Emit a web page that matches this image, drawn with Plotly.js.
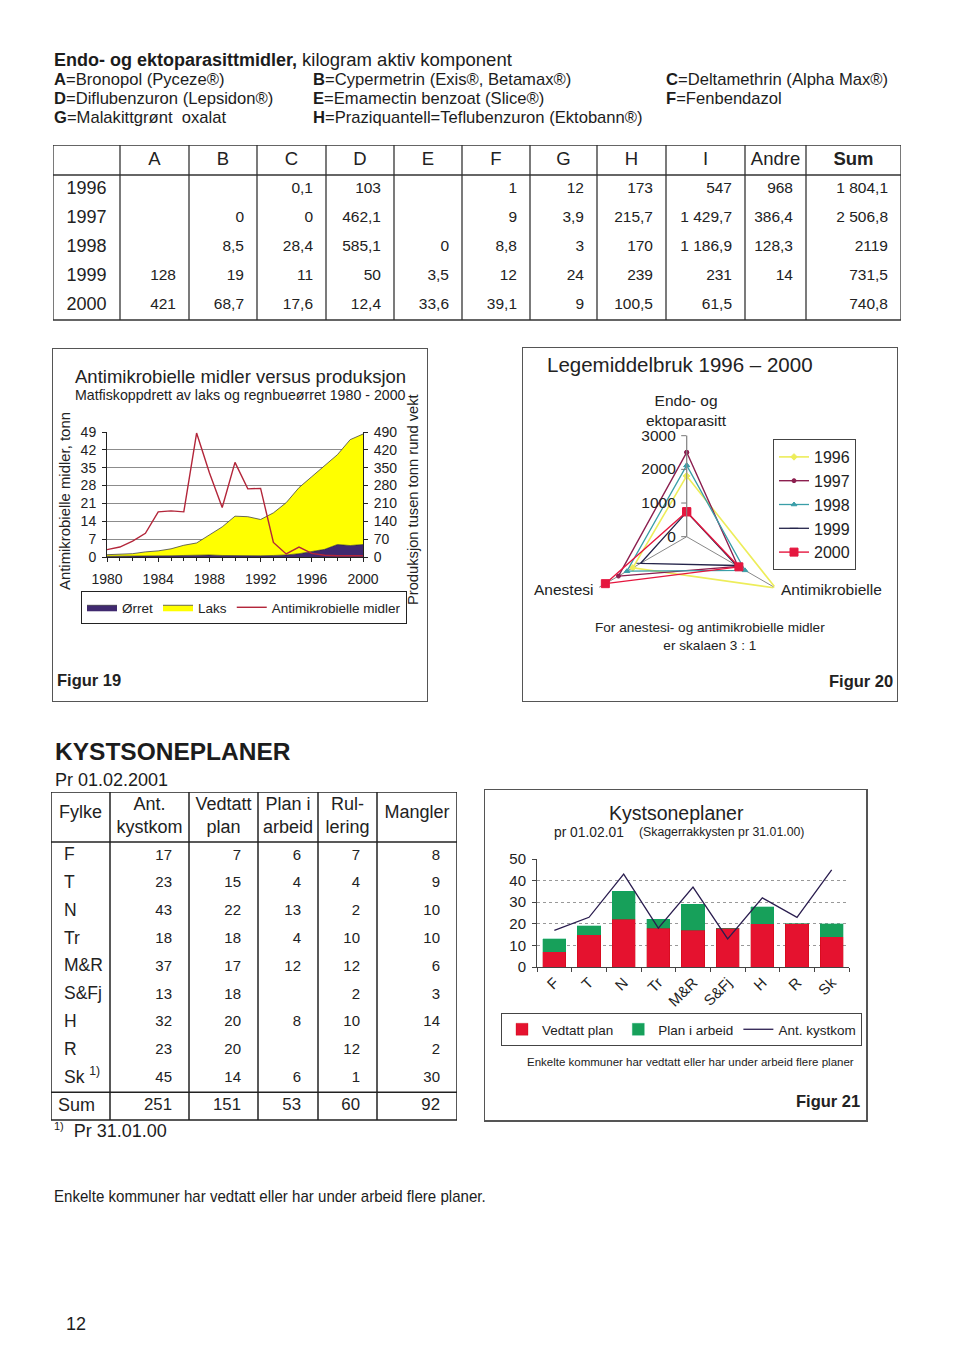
<!DOCTYPE html>
<html><head><meta charset="utf-8">
<script src="https://cdn.plot.ly/plotly-3.0.1.min.js"></script>
<style>
body{margin:0;background:#fff;}
#page{position:relative;width:960px;height:1362px;background:#fff;font-family:'Liberation Sans',Arial,sans-serif;color:#1c1c1c;overflow:hidden;}
.t{position:absolute;white-space:nowrap;line-height:1.2;}
.box{position:absolute;border:1.5px solid #555;box-sizing:border-box;}
.plot{position:absolute;}
</style></head><body><div id="page">

<div class="t" style="left:54px;top:49px;font-size:18px;"><b>Endo- og ektoparasittmidler,</b> <span style="font-size:18.5px">kilogram aktiv komponent</span></div>
<div class="t" style="left:54px;top:70px;font-size:16.6px;"><b>A</b>=Bronopol (Pyceze®)</div>
<div class="t" style="left:313px;top:70px;font-size:16.6px;"><b>B</b>=Cypermetrin (Exis®, Betamax®)</div>
<div class="t" style="left:666px;top:70px;font-size:16.6px;"><b>C</b>=Deltamethrin (Alpha Max®)</div>
<div class="t" style="left:54px;top:89px;font-size:16.6px;"><b>D</b>=Diflubenzuron (Lepsidon®)</div>
<div class="t" style="left:313px;top:89px;font-size:16.6px;"><b>E</b>=Emamectin benzoat (Slice®)</div>
<div class="t" style="left:666px;top:89px;font-size:16.6px;"><b>F</b>=Fenbendazol</div>
<div class="t" style="left:54px;top:108px;font-size:16.6px;"><b>G</b>=Malakittgrønt&nbsp; oxalat</div>
<div class="t" style="left:313px;top:108px;font-size:16.6px;"><b>H</b>=Praziquantell=Teflubenzuron (Ektobann®)</div>

<div id="tab1" class="plot" style="left:52px;top:144px;"></div>

<div class="box" style="left:52px;top:348px;width:376px;height:354px;"></div>
<div id="fig19" class="plot" style="left:52px;top:348px;"></div>
<div class="box" style="left:522px;top:347px;width:376px;height:355px;"></div>
<div id="fig20" class="plot" style="left:522px;top:348px;"></div>

<div class="t" style="left:55px;top:737px;font-size:24.5px;font-weight:bold;">KYSTSONEPLANER</div>
<div class="t" style="left:55px;top:770px;font-size:18px;">Pr 01.02.2001</div>
<div id="tab2" class="plot" style="left:50px;top:791px;"></div>
<div class="t" style="left:54px;top:1120px;font-size:18px;"><sup style="font-size:11px">1)</sup>&nbsp;&nbsp;Pr 31.01.00</div>

<div class="box" style="left:484px;top:789px;width:384px;height:333px;border-width:1.5px 2px 2px 1.5px;"></div>
<div id="fig21" class="plot" style="left:484px;top:790px;"></div>

<div class="t" style="left:54px;top:1187px;font-size:17px;transform:scaleX(0.887);transform-origin:0 50%;">Enkelte kommuner har vedtatt eller har under arbeid flere planer.</div>
<div class="t" style="left:66px;top:1314px;font-size:18px;">12</div>
</div>
<script>
const SANS = "Liberation Sans, Arial, sans-serif";
const cfg = {staticPlot:true, displayModeBar:false};

// ---------- Table: Endo- og ektoparasittmidler (kg aktiv komponent) ----------
const drugYears = ['1996','1997','1998','1999','2000'];
const drugHeaders = ['', 'A','B','C','D','E','F','G','H','I','Andre','<b>Sum</b>'];
const colA = [null, null, null, 128, 421];
const colB = [null, 0, 8.5, 19, 68.7];
const colC = [0.1, 0, 28.4, 11, 17.6];
const colD = [103, 462.1, 585.1, 50, 12.4];
const colE = [null, null, 0, 3.5, 33.6];
const colF = [1, 9, 8.8, 12, 39.1];
const colG = [12, 3.9, 3, 24, 9];
const colH = [173, 215.7, 170, 239, 100.5];
const colI = [547, 1429.7, 1186.9, 231, 61.5];
const colAndre = [968, 386.4, 128.3, 14, null];
const colSum = [1804.1, 2506.8, 2119, 731.5, 740.8];

function fmtNo(v){
  if (v === null || v === undefined) return '';
  const parts = String(v).split('.'); let i = parts[0]; const d = parts[1];
  if (d !== undefined && i.length > 3) i = i.slice(0, -3) + ' ' + i.slice(-3);
  return d !== undefined ? i + ',' + d : i;
}
function textTrace(xs, ys, texts, pos, font){
  return {type:'scatter', mode:'text', x:xs, y:ys, text:texts, textposition:pos, textfont:font,
    cliponaxis:false, hoverinfo:'skip', showlegend:false};
}
function gridLayout(W, H, shapes){
  return {width:W+2, height:H+2, margin:{l:1, r:1, t:1, b:1}, paper_bgcolor:'rgba(0,0,0,0)', plot_bgcolor:'rgba(0,0,0,0)',
    xaxis:{range:[0, W], visible:false, fixedrange:true}, yaxis:{range:[H, 0], visible:false, fixedrange:true},
    showlegend:false, hovermode:false, shapes:shapes};
}

(function(){
  const widths = [67,69,68,69,68,68,68,67,69,79,61,95];
  const W = 848, H = 176, hdrH = 30, rowH = 29, TB = 175, padR = 13;
  const b = [0]; widths.forEach(w => b.push(b[b.length-1] + w));
  const numCols = [colA,colB,colC,colD,colE,colF,colG,colH,colI,colAndre,colSum];
  const rowY = j => hdrH + rowH * (j + 0.5);
  const traces = [];
  traces.push(textTrace(drugHeaders.map((h,i) => (b[i] + b[i+1]) / 2), drugHeaders.map(() => hdrH/2), drugHeaders,
    'middle center', {family:SANS, size:18.5, color:'#222'}));
  traces.push(textTrace(drugYears.map(() => b[1]/2), drugYears.map((v,j) => rowY(j)), drugYears,
    'middle center', {family:SANS, size:18, color:'#222'}));
  numCols.forEach((c, ci) => traces.push(textTrace(c.map(() => b[ci+2] - padR), c.map((v,j) => rowY(j)), c.map(fmtNo),
    'middle left', {family:SANS, size:15.5, color:'#222'})));
  const ln = {color:'#333', width:1.3};
  const shapes = [{type:'rect', xref:'x', yref:'y', x0:0, x1:W, y0:0, y1:TB, line:ln}];
  for (let i = 1; i < b.length - 1; i++) shapes.push({type:'line', xref:'x', yref:'y', x0:b[i], x1:b[i], y0:0, y1:TB, line:ln});
  shapes.push({type:'line', xref:'x', yref:'y', x0:0, x1:W, y0:hdrH, y1:hdrH, line:ln});
  Plotly.newPlot('tab1', traces, gridLayout(W, H, shapes), cfg);
})();

// ---------- Figur 19 ----------
const prodYears = [1980,1981,1982,1983,1984,1985,1986,1987,1988,1989,1990,1991,1992,1993,1994,1995,1996,1997,1998,1999,2000];
const antimikrobielle = [2.9,3.9,6.2,9.3,17.7,18.1,17.7,48.6,33.0,19.4,37.1,26.7,26.9,5.7,1.2,3.9,1.4,0.7,0.5,0.5,0.5];
const orret = [3,3,3,4,4,5,6,8,8,6,5,5,5,6,8,13,22,30,49,45,49];
const laks = [6,7,10,16,20,27,40,47,80,112,155,153,142,167,205,259,293,327,352,415,433];
const leftTicks = [0,7,14,21,28,35,42,49];
const rightTicks = [0,70,140,210,280,350,420,490];
const yearTicks = [1980,1984,1988,1992,1996,2000];

(function(){
  const W = 450, H = 354, L = 55, T = 84, PW = 256, PH = 125;
  const px = x => (x - L) / PW, py = y => 1 - (y - T) / PH;
  const traces = [
    {x: prodYears, y: orret, name:'Ørret', type:'scatter', mode:'lines', stackgroup:'prod', yaxis:'y',
      fillcolor:'#40296f', line:{color:'#222', width:0.6}},
    {x: prodYears, y: laks, name:'Laks', type:'scatter', mode:'lines', stackgroup:'prod', yaxis:'y',
      fillcolor:'#ffff00', line:{color:'#444', width:0.8}},
    {x: prodYears, y: antimikrobielle, name:'Antimikrobielle midler', type:'scatter', mode:'lines', yaxis:'y2',
      line:{color:'#b3263a', width:1.4}}
  ];
  const ax = {ticks:'outside', ticklen:4, tickcolor:'#222', showline:true, linecolor:'#222', linewidth:1, zeroline:false, tickfont:{size:14}};
  const layout = {
    width:W, height:H, margin:{l:L, r:W-L-PW, t:T, b:H-T-PH},
    paper_bgcolor:'rgba(0,0,0,0)', plot_bgcolor:'rgba(0,0,0,0)',
    font:{family:SANS, color:'#222'},
    xaxis:Object.assign({}, ax, {range:[1980,2000], tickmode:'array', tickvals:yearTicks, showgrid:false, ticklabelstandoff:5,
      minor:{tickmode:'linear', tick0:1980, dtick:1, ticks:'outside', ticklen:3, tickcolor:'#222'}}),
    yaxis:Object.assign({}, ax, {range:[0,490], tickmode:'array', tickvals:rightTicks, side:'right', showgrid:true, gridcolor:'#8c8c8c', gridwidth:1, ticklabelstandoff:3}),
    yaxis2:Object.assign({}, ax, {range:[0,49], tickmode:'array', tickvals:leftTicks, side:'left', overlaying:'y', showgrid:false, ticklabelstandoff:3}),
    showlegend:true,
    legend:{orientation:'h', x:px(355), xanchor:'right', y:py(243), yanchor:'top',
      bordercolor:'#222', borderwidth:1, font:{size:13.5}, traceorder:'normal', bgcolor:'rgba(0,0,0,0)'},
    annotations:[
      {text:'Antimikrobielle midler versus produksjon', xref:'paper', yref:'paper', x:px(21), y:py(28), xanchor:'left', yanchor:'middle', showarrow:false, font:{size:18.5}},
      {text:'Matfiskoppdrett av laks og regnbueørret 1980 - 2000', xref:'paper', yref:'paper', x:px(21), y:py(47), xanchor:'left', yanchor:'middle', showarrow:false, font:{size:14.2}},
      {text:'Antimikrobielle midler, tonn', xref:'paper', yref:'paper', x:px(13), y:py(153), xanchor:'center', yanchor:'middle', textangle:-90, showarrow:false, font:{size:14.9}},
      {text:'Produksjon tusen tonn rund vekt', xref:'paper', yref:'paper', x:px(361), y:py(152), xanchor:'center', yanchor:'middle', textangle:-90, showarrow:false, font:{size:14.7}},
      {text:'<b>Figur 19</b>', xref:'paper', yref:'paper', x:px(3), y:py(332), xanchor:'left', yanchor:'middle', showarrow:false, font:{size:16.5}}
    ]
  };
  Plotly.newPlot('fig19', traces, layout, cfg);
})();

// ---------- Figur 20 (radar) ----------
const radarAxes = ['Endo- og ektoparasitt', 'Antimikrobielle', 'Anestesi'];
const radarYears = ['1996','1997','1998','1999','2000'];
const endoSum = colSum; // kg, the Sum column of the table
const antimikroScaled = [3050, 1760, 2000, 1710, 1790]; // read on the radar (scale 3 : 1)
const anestesiScaled = [1850, 2340, 2050, 1580, 2790];  // read on the radar (scale 3 : 1)
const radarTicks = [0, 1000, 2000, 3000];

(function(){
  const W = 376, H = 354, cx = 164.7, cy = 188.7, R = 101;
  const px = x => x / W, py = y => 1 - y / H;
  const styles = [
    {color:'#eded5a', symbol:'diamond', size:5, width:1.6},
    {color:'#8c1f4f', symbol:'circle', size:4, width:1.4},
    {color:'#3a9ea8', symbol:'triangle-up', size:5, width:1.3},
    {color:'#24244a', symbol:'line-ew-open', size:6, width:1.3},
    {color:'#e5173f', symbol:'square', size:8, width:1.4}
  ];
  const traces = radarYears.map((yr, i) => ({
    type:'scatterpolar', mode:'lines+markers', name:yr, cliponaxis:false,
    r:[endoSum[i], antimikroScaled[i], anestesiScaled[i], endoSum[i]],
    theta:[radarAxes[0], radarAxes[1], radarAxes[2], radarAxes[0]],
    line:{color:styles[i].color, width:styles[i].width},
    marker:{color:styles[i].color, symbol:styles[i].symbol, size:styles[i].size, line:{color:styles[i].color, width:1}}
  }));
  const layout = {
    width:W, height:H, margin:{l:0, r:0, t:0, b:0},
    paper_bgcolor:'rgba(0,0,0,0)', font:{family:SANS, color:'#222'},
    polar:{
      domain:{x:[(cx-R)/W, (cx+R)/W], y:[1-(cy+R)/H, 1-(cy-R)/H]},
      bgcolor:'rgba(0,0,0,0)',
      radialaxis:{range:[0,3000], angle:90, tickmode:'array', tickvals:radarTicks, side:'counterclockwise',
        ticks:'outside', ticklen:5, tickcolor:'#777', showline:true, linecolor:'#888', linewidth:1,
        showgrid:false, tickfont:{size:15.5, color:'#222'}, tickangle:90},
      angularaxis:{type:'category', categoryarray:radarAxes, rotation:90, direction:'clockwise', showline:false,
        showgrid:true, gridcolor:'#888', gridwidth:1, showticklabels:false, ticks:''}
    },
    showlegend:true,
    legend:{x:px(251), xanchor:'left', y:py(91), yanchor:'top', bordercolor:'#444', borderwidth:1,
      font:{size:16}, bgcolor:'rgba(0,0,0,0)', tracegroupgap:0, itemwidth:30},
    annotations:[
      {text:'Legemiddelbruk 1996 – 2000', xref:'paper', yref:'paper', x:px(23), y:py(16), xanchor:'left', yanchor:'middle', showarrow:false, font:{size:20.5}},
      {text:'Endo- og<br>ektoparasitt', xref:'paper', yref:'paper', x:px(164), y:py(62), xanchor:'center', yanchor:'middle', showarrow:false, font:{size:15.5}},
      {text:'Anestesi', xref:'paper', yref:'paper', x:px(41), y:py(241), xanchor:'center', yanchor:'middle', showarrow:false, font:{size:15.5}},
      {text:'Antimikrobielle', xref:'paper', yref:'paper', x:px(309), y:py(241), xanchor:'center', yanchor:'middle', showarrow:false, font:{size:15.5}},
      {text:'For anestesi- og antimikrobielle midler<br>er skalaen 3 : 1', xref:'paper', yref:'paper', x:px(188), y:py(288), xanchor:'center', yanchor:'middle', showarrow:false, font:{size:13.6}},
      {text:'<b>Figur 20</b>', xref:'paper', yref:'paper', x:px(373), y:py(333), xanchor:'right', yanchor:'middle', showarrow:false, font:{size:16.5}}
    ]
  };
  Plotly.newPlot('fig20', traces, layout, cfg);
})();

// ---------- Table: Kystsoneplaner ----------
const fylker = ['F','T','N','Tr','M&R','S&Fj','H','R','Sk <sup>1)</sup>'];
const antKystkom = [17,23,43,18,37,13,32,23,45];
const vedtattPlan = [7,15,22,18,17,18,20,20,14];
const planIArbeid = [6,4,13,4,12,null,8,null,6];
const rullering = [7,4,2,10,12,2,10,12,1];
const mangler = [8,9,10,10,6,3,14,2,30];
const kystHeaders = ['Fylke','Ant.<br>kystkom','Vedtatt<br>plan','Plan i<br>arbeid','Rul-<br>lering','Mangler'];

(function(){
  const widths = [59,79,69,60,59,80];
  const W = 406, H = 329, hdr = 50, rh = 27.8, padR = 17;
  const b = [0]; widths.forEach(w => b.push(b[b.length-1] + w));
  const rowY = j => hdr + rh * (j + 0.5);
  const sum = a => a.reduce((s,v) => s + (v || 0), 0);
  const numCols = [antKystkom, vedtattPlan, planIArbeid, rullering, mangler];
  const traces = [];
  traces.push(textTrace(kystHeaders.map((h,i) => (b[i] + b[i+1]) / 2), kystHeaders.map(h => h.indexOf('<br>') >= 0 ? 25 : 21),
    kystHeaders, 'middle center', {family:SANS, size:18, color:'#222'}));
  traces.push(textTrace(fylker.map(() => 13), fylker.map((f,j) => rowY(j)), fylker, 'middle right', {family:SANS, size:17.5, color:'#222'}));
  traces.push(textTrace([7], [rowY(9)], ['Sum'], 'middle right', {family:SANS, size:18, color:'#222'}));
  numCols.forEach((c, ci) => {
    traces.push(textTrace(c.map(() => b[ci+2] - padR), c.map((v,j) => rowY(j)), c.map(v => v === null ? '' : String(v)),
      'middle left', {family:SANS, size:15, color:'#222'}));
    traces.push(textTrace([b[ci+2] - padR], [rowY(9)], [String(sum(c))], 'middle left', {family:SANS, size:16.8, color:'#222'}));
  });
  const ln = {color:'#222', width:1.5};
  const TB = hdr + 10 * rh;
  const shapes = [{type:'rect', xref:'x', yref:'y', x0:0, x1:W, y0:0, y1:TB, line:ln}];
  for (let i = 1; i < b.length - 1; i++) shapes.push({type:'line', xref:'x', yref:'y', x0:b[i], x1:b[i], y0:0, y1:TB, line:ln});
  [hdr, hdr + 9*rh].forEach(y => shapes.push({type:'line', xref:'x', yref:'y', x0:0, x1:W, y0:y, y1:y, line:ln}));
  Plotly.newPlot('tab2', traces, gridLayout(W, H, shapes), cfg);
})();

// ---------- Figur 21 ----------
const kystCats = ['F','T','N','Tr','M&R','S&Fj','H','R','Sk'];
const kystTicks = [0,10,20,30,40,50];

(function(){
  const W = 460, H = 332, L = 53, T = 69, PW = 312, PH = 108;
  const px = x => (x - L) / PW, py = y => 1 - (y - T) / PH;
  const traces = [
    {type:'bar', x:kystCats, y:vedtattPlan, name:'Vedtatt plan', marker:{color:'#e5122f', line:{color:'#b00', width:0.3}}},
    {type:'bar', x:kystCats, y:planIArbeid.map(v => v === null ? 0 : v), name:'Plan i arbeid', marker:{color:'#17a05a', line:{color:'#0a6', width:0.3}}},
    {type:'scatter', mode:'lines', x:kystCats, y:antKystkom, name:'Ant. kystkom', line:{color:'#2a1d4f', width:1.3}}
  ];
  const layout = {
    width:W, height:H, margin:{l:L, r:W-L-PW, t:T, b:H-T-PH},
    paper_bgcolor:'rgba(0,0,0,0)', plot_bgcolor:'rgba(0,0,0,0)', font:{family:SANS, color:'#222'},
    barmode:'stack', bargap:0.33,
    xaxis:{type:'category', tickangle:-45, ticks:'outside', tickson:'boundaries', ticklen:4, tickcolor:'#444',
      showline:true, linecolor:'#444', tickfont:{size:15}, showgrid:false},
    yaxis:{range:[0,50], tickmode:'array', tickvals:kystTicks, ticks:'outside', ticklen:4, tickcolor:'#444', showline:true, linecolor:'#444',
      showgrid:true, gridcolor:'#999', griddash:'dot', zeroline:false, tickfont:{size:15}, ticklabelstandoff:3},
    showlegend:true,
    legend:{orientation:'h', x:px(378), xanchor:'right', y:py(223), yanchor:'top',
      bordercolor:'#444', borderwidth:1, font:{size:13.5}, traceorder:'normal', bgcolor:'rgba(0,0,0,0)'},
    annotations:[
      {text:'Kystsoneplaner', xref:'paper', yref:'paper', x:px(192), y:py(23), xanchor:'center', yanchor:'middle', showarrow:false, font:{size:19.5}},
      {text:'pr 01.02.01', xref:'paper', yref:'paper', x:px(68), y:py(42), xanchor:'left', yanchor:'middle', showarrow:false, font:{size:13.8}},
      {text:'(Skagerrakkysten pr 31.01.00)', xref:'paper', yref:'paper', x:px(153), y:py(42), xanchor:'left', yanchor:'middle', showarrow:false, font:{size:12.3}},
      {text:'Enkelte kommuner har vedtatt eller har under arbeid flere planer', xref:'paper', yref:'paper', x:px(206), y:py(272), xanchor:'center', yanchor:'middle', showarrow:false, font:{size:11.5}},
      {text:'<b>Figur 21</b>', xref:'paper', yref:'paper', x:px(378), y:py(311), xanchor:'right', yanchor:'middle', showarrow:false, font:{size:16.5}}
    ]
  };
  Plotly.newPlot('fig21', traces, layout, cfg);
})();
</script>
</body></html>
